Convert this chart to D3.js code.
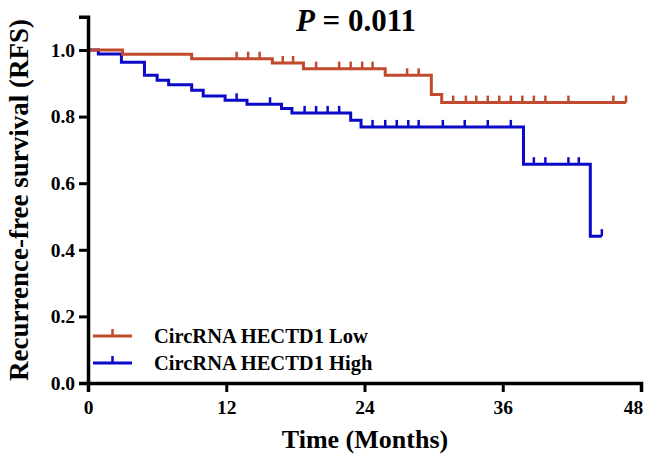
<!DOCTYPE html>
<html>
<head>
<meta charset="utf-8">
<script src="https://cdn.jsdelivr.net/npm/d3@7"></script>
<style>
  body { margin: 0; background: #fff; }
  svg text { font-family: "Liberation Serif", "Times New Roman", serif; font-weight: bold; fill: #000; }
</style>
</head>
<body>
<svg id="chart" width="649" height="462"></svg>
<script>
// Kaplan-Meier steps (months, survival)
const lowTimes = [0, 3, 9, 16, 18.7, 25.8, 29.8, 30.7];
const lowSurv  = [1.0, 0.987, 0.974, 0.961, 0.944, 0.924, 0.866, 0.842];
const lowEnd = 46.7;
const lowCensor = [12.9, 13.9, 14.9, 16.9, 17.8, 19.8, 21.8, 22.8, 23.8, 24.7, 27.7, 28.7,
                   31.7, 32.8, 33.7, 34.7, 35.7, 36.7, 37.7, 38.7, 39.7, 41.7, 45.6, 46.7];

const highTimes = [0, 0.9, 2.9, 4.9, 6, 7, 9, 10, 11.9, 13.8, 16.8, 17.7, 22.8, 23.7, 37.8, 43.6];
const highSurv  = [1.0, 0.988, 0.963, 0.924, 0.909, 0.896, 0.879, 0.862, 0.849, 0.837, 0.824, 0.811, 0.789, 0.769, 0.657, 0.441];
const highEnd = 44.6;
const highCensor = [12.9, 15.8, 18.8, 19.8, 20.8, 21.8, 24.7, 25.8, 26.8, 27.8, 28.7, 30.8,
                    32.7, 34.7, 36.7, 38.7, 39.7, 41.7, 42.6, 44.6];

const xTicks = [0, 12, 24, 36, 48];
const yTicks = [0, 0.2, 0.4, 0.6, 0.8, 1.0];
const groupNames = ["CircRNA HECTD1 Low", "CircRNA HECTD1 High"];
const groupColors = ["#c24a2c", "#0a0ac8"];

const svg = d3.select("#chart");
const x = d3.scaleLinear().domain([0, 48]).range([88, 641]);
const y = d3.scaleLinear().domain([0, 1.1]).range([383, 16.7]);

const curveLine = d3.line().x(d => x(d[0])).y(d => y(d[1])).curve(d3.curveStepAfter);

function stepPoints(times, surv, end) {
    const pts = times.map((t, i) => [t, surv[i]]);
    pts.push([end, surv[surv.length - 1]]);
    return pts;
}
function survAt(times, surv, t) {
    let s = surv[0];
    times.forEach((tt, i) => { if (tt <= t) s = surv[i]; });
    return s;
}

const series = [
    { times: lowTimes, surv: lowSurv, end: lowEnd, censor: lowCensor, color: groupColors[0] },
    { times: highTimes, surv: highSurv, end: highEnd, censor: highCensor, color: groupColors[1] }
];

// curves (high drawn first so low sits on top at t=0)
series.slice().reverse().forEach(s => {
    svg.append("path")
        .attr("d", curveLine(stepPoints(s.times, s.surv, s.end)))
        .attr("fill", "none").attr("stroke", s.color).attr("stroke-width", 3)
        .attr("stroke-linejoin", "miter");
    svg.selectAll(null).data(s.censor).enter().append("line")
        .attr("x1", d => x(d)).attr("x2", d => x(d))
        .attr("y1", d => y(survAt(s.times, s.surv, d)))
        .attr("y2", d => y(survAt(s.times, s.surv, d)) - 7)
        .attr("stroke", s.color).attr("stroke-width", 2.5);
});

// axes
const xAxis = svg.append("g").attr("transform", `translate(0,${y(0)})`)
    .call(d3.axisBottom(x).tickValues(xTicks).tickSizeOuter(0).tickSize(9).tickPadding(8));
const yAxis = svg.append("g").attr("transform", `translate(${x(0)},0)`)
    .call(d3.axisLeft(y).tickValues(yTicks).tickFormat(d3.format(".1f")).tickSizeOuter(0).tickSize(9).tickPadding(4));
[xAxis, yAxis].forEach(g => {
    g.select(".domain").attr("stroke", "#000").attr("stroke-width", 3.5);
    g.selectAll(".tick line").attr("stroke", "#000").attr("stroke-width", 3);
    g.selectAll("text").attr("fill", "#000").style("font-size", "19.5px")
        .style("font-family", '"Liberation Serif", serif').style("font-weight", "bold");
});
xAxis.selectAll("text").style("font-size", "19.5px");
// keep the last x label inside the frame
xAxis.selectAll(".tick text").filter(d => d === 48).attr("dx", -8);

// axis titles
svg.append("text").attr("x", 365).attr("y", 448).attr("text-anchor", "middle")
    .style("font-size", "26px").text("Time (Months)");
svg.append("text").attr("transform", "translate(28,200) rotate(-90)").attr("text-anchor", "middle")
    .style("font-size", "27px").text("Recurrence-free survival (RFS)");

// P value
const pText = svg.append("text").attr("x", 356).attr("y", 31).attr("text-anchor", "middle")
    .style("font-size", "31px");
pText.append("tspan").style("font-style", "italic").text("P");
pText.append("tspan").text(" = 0.011");

// legend
const legend = svg.append("g");
groupNames.forEach((name, i) => {
    const ly = 336 + i * 27;
    legend.append("line").attr("x1", 93).attr("x2", 132).attr("y1", ly).attr("y2", ly)
        .attr("stroke", groupColors[i]).attr("stroke-width", 3);
    legend.append("line").attr("x1", 112.5).attr("x2", 112.5).attr("y1", ly).attr("y2", ly - 7)
        .attr("stroke", groupColors[i]).attr("stroke-width", 2.5);
    legend.append("text").attr("x", 154).attr("y", ly + 7).style("font-size", "20.5px").text(name);
});
</script>
</body>
</html>
